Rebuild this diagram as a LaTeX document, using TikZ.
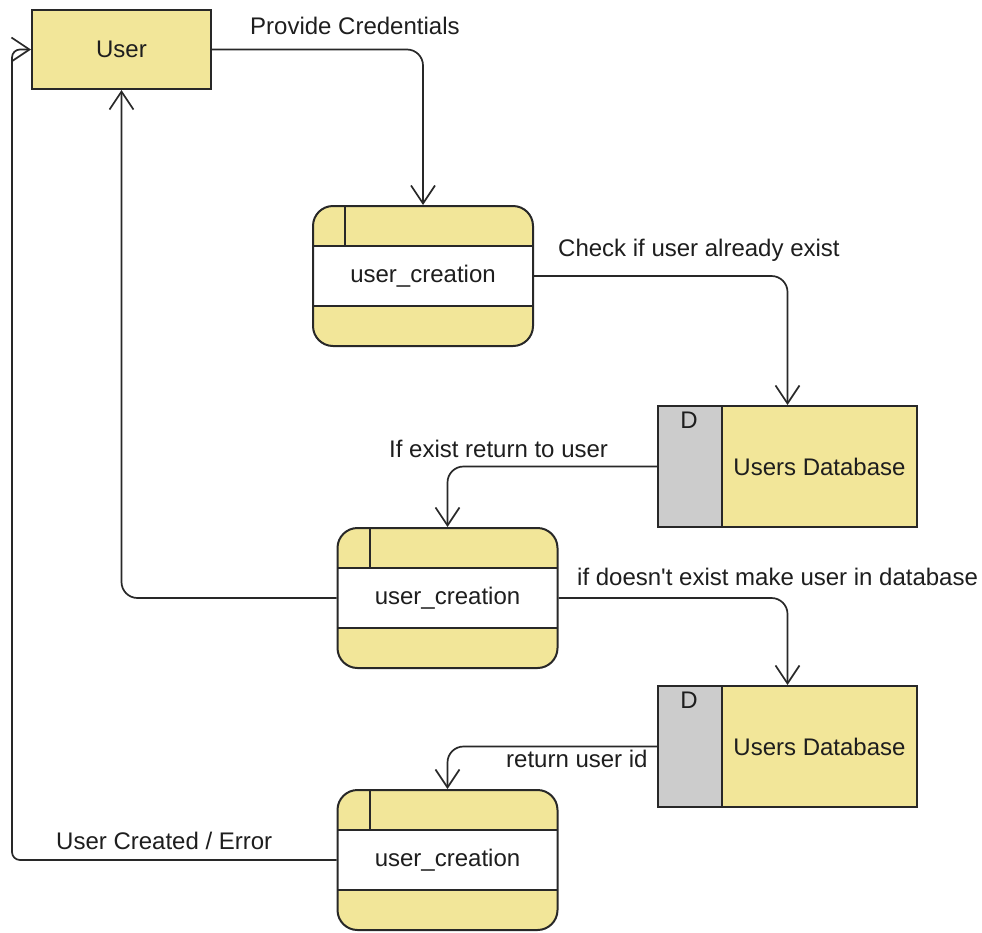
\documentclass[tikz,border=0pt]{standalone}
\usepackage{fontspec}
\setmainfont{Liberation Sans}[Ligatures=TeXOff]
\usetikzlibrary{arrows.meta}
\definecolor{boxfill}{RGB}{242,230,153}
\definecolor{storegray}{RGB}{204,204,204}
\definecolor{edgecol}{RGB}{40,40,40}
\definecolor{ink}{RGB}{30,30,30}
\begin{document}
\begin{tikzpicture}[x=1pt,y=-1pt,
  every node/.style={font=\fontsize{24}{28}\selectfont, text=ink},
  entity/.style={draw=edgecol, line width=2pt, fill=boxfill,
    minimum width=179pt, minimum height=79pt, inner sep=0pt},
  proc/.style={draw=edgecol, line width=2pt, fill=boxfill, rounded corners=20pt,
    minimum width=220pt, minimum height=140pt, inner sep=0pt,
    path picture={
      \fill[white, sharp corners]
        ([yshift=-40pt]path picture bounding box.north west) rectangle
        ([yshift=40pt]path picture bounding box.south east);
      \draw[edgecol, line width=2pt, sharp corners]
        ([yshift=-40pt]path picture bounding box.north west) -- ([yshift=-40pt]path picture bounding box.north east)
        ([yshift=40pt]path picture bounding box.south west) -- ([yshift=40pt]path picture bounding box.south east)
        ([xshift=32pt]path picture bounding box.north west) -- ([xshift=32pt,yshift=-40pt]path picture bounding box.north west);
    }},
  store/.style={draw=edgecol, line width=2pt, fill=boxfill,
    minimum width=259pt, minimum height=121pt, inner sep=0pt,
    path picture={
      \fill[storegray] (path picture bounding box.north west) rectangle
        ([xshift=64pt]path picture bounding box.south west);
      \draw[edgecol, line width=2pt]
        ([xshift=64pt]path picture bounding box.north west) -- ([xshift=64pt]path picture bounding box.south west);
    },
    label={[anchor=north, xshift=32pt, inner sep=7pt]north west:D}},
  flow/.style={draw=edgecol, line width=1.7pt, rounded corners=16pt,
    -{Straight Barb[length=18pt,width=24pt]}},
  lbl/.style={anchor=west, inner sep=0pt}]

\useasboundingbox (0,0) rectangle (982,932);
\fill[white] (0,0) rectangle (982,932);

% entities, processes and data stores
\node[entity] (user) at (121.5,49.5) {User};
\node[proc] (p1) at (423,276) {user\_creation};
\node[store] (db1) at (787.5,466.5) {\hspace*{64pt}Users Database};
\node[proc] (p2) at (447.5,598) {user\_creation};
\node[store] (db2) at (787.5,746.5) {\hspace*{64pt}Users Database};
\node[proc] (p3) at (447.5,860) {user\_creation};

% data flows
\draw[flow] (user.east) -| (p1.north);
\draw[flow] (p1.east) -| (db1.north);
\draw[flow] (db1.west) -| (p2.north);
\draw[flow] (p2.west) -| (user.south);
\draw[flow] (p2.east) -| (db2.north);
\draw[flow] (db2.west) -| (p3.north);
\coordinate (loopcorner) at (12,49.5);
\draw[flow, rounded corners=8pt] (p3.west) -| (loopcorner) -- (user.west);

% flow labels
\node[lbl] (l1) at (250,26) {Provide Credentials};
\node[lbl] (l2) at (558,250) {Check if user already exist};
\node[lbl] (l3) at (389,449) {If exist return to user};
\node[lbl] (l4) at (577,577) {if doesn't exist make user in database};
\node[lbl] (l5) at (506,759) {return user id};
\node[lbl] (l6) at (56,841) {User Created / Error};
\end{tikzpicture}
\end{document}
